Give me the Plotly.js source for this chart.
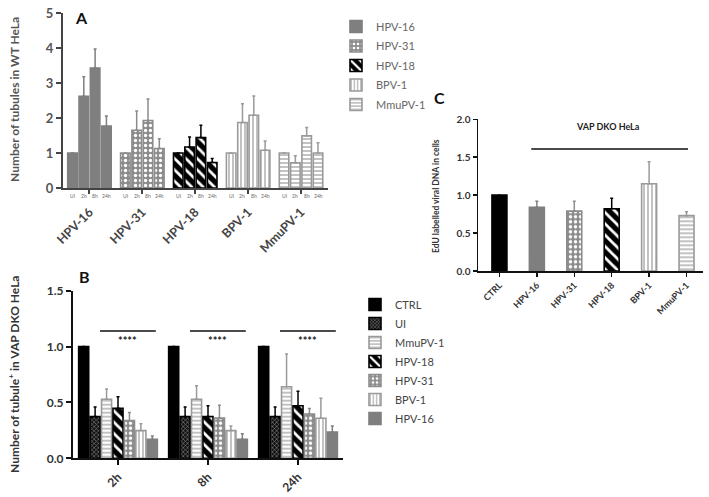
<!DOCTYPE html>
<html><head><meta charset="utf-8">
<script src="https://cdn.plot.ly/plotly-3.0.1.min.js"></script>
<style>body{margin:0;background:#fff}#chart{width:709px;height:497px}</style>
</head><body><div id="chart"></div>
<script>
// ---------- Panel A data ----------
const virusesA = ['HPV-16', 'HPV-31', 'HPV-18', 'BPV-1', 'MmuPV-1'];
const timesA = ['UI', '2h', '8h', '24h'];
const hpv16A = [1.0, 2.62, 3.43, 1.77];
const hpv16AErr = [0, 0.56, 0.54, 0.29];
const hpv31A = [1.0, 1.65, 1.93, 1.13];
const hpv31AErr = [0, 0.55, 0.61, 0.28];
const hpv18A = [1.0, 1.17, 1.44, 0.73];
const hpv18AErr = [0, 0.29, 0.35, 0.11];
const bpv1A = [1.0, 1.87, 2.08, 1.08];
const bpv1AErr = [0, 0.54, 0.55, 0.26];
const mmupv1A = [1.0, 0.72, 1.49, 1.0];
const mmupv1AErr = [0, 0.2, 0.24, 0.29];
const titleA = 'Number of tubules in WT HeLa';

// ---------- Panel B data ----------
const timesB = ['2h', '8h', '24h'];
const ctrlB = [1.0, 1.0, 1.0];
const ctrlBErr = [0, 0, 0];
const uiB = [0.373, 0.373, 0.373];
const uiBErr = [0.087, 0.087, 0.087];
const mmupv1B = [0.528, 0.528, 0.64];
const mmupv1BErr = [0.092, 0.122, 0.294];
const hpv18B = [0.448, 0.373, 0.47];
const hpv18BErr = [0.102, 0.097, 0.13];
const hpv31B = [0.337, 0.36, 0.397];
const hpv31BErr = [0.073, 0.115, 0.048];
const bpv1B = [0.248, 0.248, 0.358];
const bpv1BErr = [0.062, 0.042, 0.179];
const hpv16B = [0.17, 0.17, 0.236];
const hpv16BErr = [0.03, 0.05, 0.054];
const sigLabelB = '****';
const titleB = 'Number of tubule<sup>+</sup> in VAP DKO HeLa';

// ---------- Panel C data ----------
const catsC = ['CTRL', 'HPV-16', 'HPV-31', 'HPV-18', 'BPV-1', 'MmuPV-1'];
const valsC = [1.0, 0.84, 0.79, 0.82, 1.15, 0.73];
const errC = [0, 0.08, 0.13, 0.14, 0.29, 0.05];
const titleC = 'VAP DKO HeLa';
const yTitleC = 'EdU labelled viral DNA in cells';

// ---------- styles ----------
const FONT = 'Lato, "Open Sans", sans-serif';
const styles = {
  'CTRL':    {color: '#000000', line: '#000000', shape: '', fg: '#000000', bg: '#000000', size: 8, sol: 0.3},
  'UI':      {color: '#000000', line: '#000000', shape: 'x', fg: '#8a8a8a', bg: '#111111', size: 3, sol: 0.35},
  'HPV-16':  {color: '#7f7f7f', line: '#7f7f7f', shape: '', fg: '#7f7f7f', bg: '#7f7f7f', size: 8, sol: 0.3},
  'HPV-31':  {color: '#8c8c8c', line: '#8c8c8c', shape: '.', fg: '#ffffff', bg: '#8c8c8c', size: 5, sol: 0.35},
  'HPV-18':  {color: '#000000', line: '#000000', shape: '\\', fg: '#ffffff', bg: '#000000', size: 8, sol: 0.35},
  'BPV-1':   {color: '#ffffff', line: '#9a9a9a', shape: '|', fg: '#9a9a9a', bg: '#ffffff', size: 4, sol: 0.3},
  'MmuPV-1': {color: '#ffffff', line: '#9a9a9a', shape: '-', fg: '#9a9a9a', bg: '#ffffff', size: 4, sol: 0.3}
};
function marker(name, lw) {
  const s = styles[name];
  const m = {color: s.color, line: {color: s.line, width: lw}};
  if (s.shape) m.pattern = {shape: s.shape, fgcolor: s.fg, bgcolor: s.bg, size: s.size, solidity: s.sol, fillmode: 'replace'};
  return m;
}
function errY(arr, col) {
  return {type: 'data', symmetric: false, array: arr, arrayminus: arr.map(() => 0), color: col, thickness: 1.5, width: 1.5};
}

const traces = [];
// Panel A: each virus group sits at integer index; bars within a group offset by slot
const slotPitch = 0.214, barW = 0.18;
const seriesA = [hpv16A, hpv31A, hpv18A, bpv1A, mmupv1A];
const errA = [hpv16AErr, hpv31AErr, hpv18AErr, bpv1AErr, mmupv1AErr];
virusesA.forEach((v, g) => {
  const xs = timesA.map((t, i) => g + (i - (timesA.length - 1) / 2) * slotPitch);
  traces.push({
    type: 'bar', name: v, x: xs, y: seriesA[g], width: barW, offset: -barW / 2,
    xaxis: 'x', yaxis: 'y', marker: marker(v, 1.6), legend: 'legend',
    error_y: errY(errA[g], styles[v].line), hoverinfo: 'x+y'
  });
});

// Panel B
const namesB = ['CTRL', 'UI', 'MmuPV-1', 'HPV-18', 'HPV-31', 'BPV-1', 'HPV-16'];
const seriesB = [ctrlB, uiB, mmupv1B, hpv18B, hpv31B, bpv1B, hpv16B];
const errsB = [ctrlBErr, uiBErr, mmupv1BErr, hpv18BErr, hpv31BErr, bpv1BErr, hpv16BErr];
namesB.forEach((n, k) => {
  traces.push({
    type: 'bar', name: n, x: timesB, y: seriesB[k], xaxis: 'x2', yaxis: 'y2',
    marker: marker(n, 1.6), legend: 'legend2',
    error_y: errY(errsB[k], styles[n].line)
  });
});

// Panel C: one trace per bar so each keeps its own pattern
const barWC = 0.4;
catsC.forEach((c, i) => {
  traces.push({
    type: 'bar', name: c, x: [c], y: [valsC[i]], xaxis: 'x3', yaxis: 'y3', showlegend: false,
    width: barWC, offset: -barWC / 2, marker: marker(c, 1.6),
    error_y: errY([errC[i]], c === 'CTRL' ? '#000' : styles[c].line)
  });
});

const W = 709, H = 497;
const px = v => v / W, py = v => 1 - v / H;
const axisBase = {showgrid: false, zeroline: false, showline: true, ticks: 'outside', ticklen: 5, tickwidth: 2, fixedrange: true};
const bold = (size, color) => ({family: FONT, size: size, color: color || '#333', weight: 'bold'});

// time labels in panel A (small, one under each bar)
const annotations = [];
virusesA.forEach((v, g) => {
  timesA.forEach((t, i) => {
    annotations.push({xref: 'x', yref: 'paper', x: g + (i - (timesA.length - 1) / 2) * slotPitch, y: py(196),
      text: t, showarrow: false, font: {family: FONT, size: 5, color: '#666'}, xanchor: 'center', yanchor: 'middle'});
  });
});
// significance in B
const sigSpan = [-0.2, 0.42];
const shapes = [];
timesB.forEach((t, k) => {
  shapes.push({type: 'line', xref: 'x2', yref: 'y2', x0: k + sigSpan[0], x1: k + sigSpan[1], y0: 1.14, y1: 1.14, line: {color: '#111', width: 1.5}});
  annotations.push({xref: 'x2', yref: 'y2', x: k + (sigSpan[0] + sigSpan[1]) / 2, y: 1.05, text: sigLabelB, showarrow: false,
    font: bold(11, '#222'), xanchor: 'center', yanchor: 'middle'});
});
// C bracket
shapes.push({type: 'line', xref: 'x3', yref: 'y3', x0: 0.85, x1: 5.04, y0: 1.61, y1: 1.61, line: {color: '#111', width: 1.5}});
annotations.push({xref: 'x3', yref: 'y3', x: 2.9, y: 1.9, text: titleC, showarrow: false, font: bold(9, '#222'), xanchor: 'center', yanchor: 'middle'});
// panel letters
[['A', 73, 17], ['B', 77, 276], ['C', 432, 98]].forEach(([t, x, y]) => {
  annotations.push({xref: 'paper', yref: 'paper', x: px(x), y: py(y), text: t, showarrow: false, font: bold(16, '#111'), xanchor: 'left', yanchor: 'middle'});
});
// y-axis titles (rotated)
[[titleA, 14, 100, 12, '#555'], [titleB, 14, 375, 12, '#333'], [yTitleC, 436, 196, 8.5, '#333']].forEach(([t, x, y, s, c]) => {
  annotations.push({xref: 'paper', yref: 'paper', x: px(x), y: py(y), text: t, textangle: -90, showarrow: false,
    font: bold(s, c), xanchor: 'center', yanchor: 'middle'});
});

const layout = {
  width: W, height: H, margin: {l: 0, r: 0, t: 0, b: 0},
  paper_bgcolor: '#fff', plot_bgcolor: 'rgba(0,0,0,0)',
  barmode: 'group', bargap: 0.11, bargroupgap: 0.12,
  font: {family: FONT, color: '#333'},
  xaxis: Object.assign({}, axisBase, {domain: [px(63), px(328)], range: [-0.5, 4.51], anchor: 'y',
    tickmode: 'array', tickvals: virusesA.map((v, i) => i), ticktext: virusesA, tickangle: -45,
    ticklabelstandoff: 6, tickfont: bold(12.5, '#444'), linecolor: '#444', linewidth: 2, tickcolor: '#444', ticklen: 4}),
  yaxis: Object.assign({}, axisBase, {domain: [py(188), py(13)], range: [0, 5], anchor: 'x', dtick: 1,
    tickfont: bold(13, '#555'), linecolor: '#444', linewidth: 2, tickcolor: '#444'}),
  xaxis2: Object.assign({}, axisBase, {domain: [px(73), px(343)], range: [-0.5, 2.5], anchor: 'y2', type: 'category',
    tickangle: -45, tickfont: bold(12, '#333'), linecolor: '#111', linewidth: 2, tickcolor: '#111'}),
  yaxis2: Object.assign({}, axisBase, {domain: [py(458.3), py(290.7)], range: [0, 1.5], anchor: 'x2', dtick: 0.5, tickformat: '.1f',
    tickfont: bold(12, '#333'), linecolor: '#111', linewidth: 2, tickcolor: '#111'}),
  xaxis3: Object.assign({}, axisBase, {domain: [px(478), px(703)], range: [-0.573, 5.44], anchor: 'y3', type: 'category',
    tickangle: -45, tickfont: bold(9, '#333'), linecolor: '#111', linewidth: 1.5, tickcolor: '#111', ticklen: 4, tickwidth: 1.5}),
  yaxis3: Object.assign({}, axisBase, {domain: [py(271), py(119.3)], range: [0, 2], anchor: 'x3', dtick: 0.5, tickformat: '.1f',
    tickfont: bold(10, '#333'), linecolor: '#111', linewidth: 1.5, tickcolor: '#111', ticklen: 4, tickwidth: 1.5}),
  legend: {x: px(336), y: py(12), xanchor: 'left', yanchor: 'top', bgcolor: 'rgba(0,0,0,0)',
    font: {family: FONT, size: 11, color: '#666'}, tracegroupgap: 0.5, itemclick: false, traceorder: 'grouped'},
  legend2: {x: px(355), y: py(290), xanchor: 'left', yanchor: 'top', bgcolor: 'rgba(0,0,0,0)',
    font: {family: FONT, size: 11, color: '#444'}, tracegroupgap: 0, itemclick: false, traceorder: 'grouped'},
  shapes: shapes, annotations: annotations, showlegend: true
};
traces.forEach((t, i) => { t.legendgroup = 'g' + i; });

Plotly.newPlot('chart', traces, layout, {displayModeBar: false, staticPlot: true});
</script></body></html>
